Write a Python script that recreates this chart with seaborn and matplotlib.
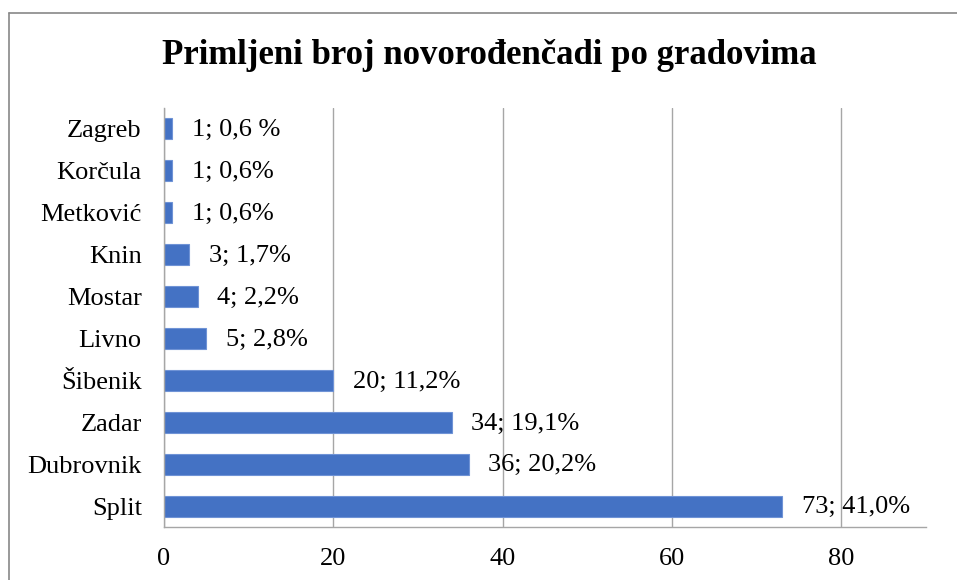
import matplotlib
matplotlib.use("Agg")
import matplotlib.pyplot as plt
import seaborn as sns
import pandas as pd
from matplotlib.lines import Line2D

# Data
cities = ["Zagreb", "Korčula", "Metković", "Knin", "Mostar", "Livno",
          "Šibenik", "Zadar", "Dubrovnik", "Split"]
counts = [1, 1, 1, 3, 4, 5, 20, 34, 36, 73]
labels = ["1; 0,6 %", "1; 0,6%", "1; 0,6%", "3; 1,7%", "4; 2,2%", "5; 2,8%",
          "20; 11,2%", "34; 19,1%", "36; 20,2%", "73; 41,0%"]

df = pd.DataFrame({"grad": cities, "broj": counts})

sns.set_style("white")
plt.rcParams["font.family"] = ["Liberation Serif", "DejaVu Serif"]
plt.rcParams["text.color"] = "black"
plt.rcParams["xtick.color"] = "black"
plt.rcParams["ytick.color"] = "black"

fig = plt.figure(figsize=(9.57, 5.8), dpi=100)
ax = fig.add_axes([164 / 957, 1 - 527 / 580, (926 - 164) / 957, (527 - 108) / 580])

sns.barplot(data=df, x="broj", y="grad", color="#4472C4", width=0.5,
            edgecolor="#6f93d6", linewidth=0.8, saturation=1, ax=ax)

# data labels "count; percent"
for i, (v, lab) in enumerate(zip(counts, labels)):
    ax.text(v + 2.3, i + 0.03, lab, va="center", ha="left", fontsize=19, color="black")

ax.set_xlim(0, 90)
ax.set_xticks([0, 20, 40, 60, 80])
ax.set_xlabel("")
ax.set_ylabel("")
ax.grid(axis="x", color="#a6a6a6", linewidth=1)
ax.set_axisbelow(True)
for s in ["top", "right"]:
    ax.spines[s].set_visible(False)
ax.spines["left"].set_color("#a6a6a6")
ax.spines["bottom"].set_color("#a6a6a6")
ax.spines["left"].set_linewidth(1)
ax.spines["bottom"].set_linewidth(1)
ax.tick_params(axis="x", length=7, color="#a6a6a6", labelcolor="black",
               width=1, labelsize=19, pad=8)
ax.tick_params(axis="y", length=0, labelsize=19, labelcolor="black", pad=16)

fig.text(489 / 957, 1 - 56 / 580, "Primljeni broj novorođenčadi po gradovima",
         ha="center", va="center", fontsize=25, fontweight="bold", color="black")

# outer chart border (only top and left are visible in the crop)
top_y = 1 - 13 / 580
left_x = 9 / 957
fig.lines.append(Line2D([left_x, 1], [top_y, top_y], transform=fig.transFigure,
                        color="#888888", linewidth=1.2))
fig.lines.append(Line2D([left_x, left_x], [0, top_y], transform=fig.transFigure,
                        color="#888888", linewidth=1.2))

fig.savefig("out.png", dpi=100)
